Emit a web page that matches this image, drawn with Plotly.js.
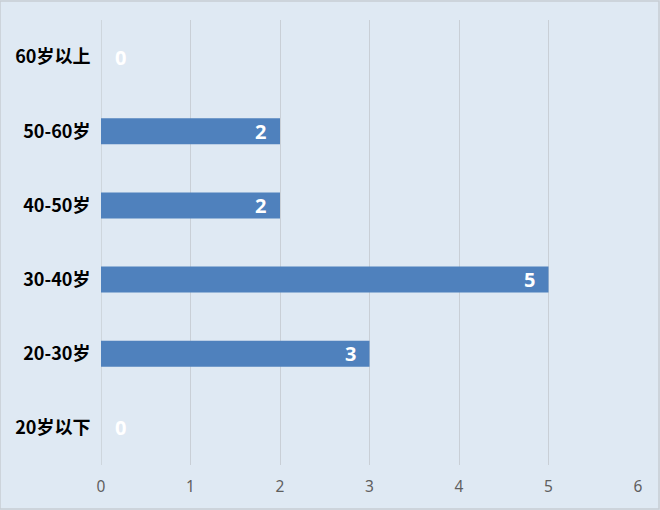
<!DOCTYPE html>
<html>
<head>
<meta charset="utf-8">
<script src="https://cdn.plot.ly/plotly-3.0.1.min.js"></script>
<style>html,body{margin:0;padding:0;background:#dfe9f3;}#chart{width:660px;height:510px;}</style>
</head>
<body>
<div id="chart"></div>
<script>
const categories = ["20岁以下", "20-30岁", "30-40岁", "40-50岁", "50-60岁", "60岁以上"];
const values = [0, 3, 5, 2, 2, 0];
const xTicks = [0, 1, 2, 3, 4, 5, 6];

const trace = {
  type: 'bar',
  orientation: 'h',
  y: categories,
  x: values,
  width: 0.35,
  marker: {color: '#4f81bd'},
  hoverinfo: 'none'
};

const annotations = values.map((v, i) => ({
  x: v, y: categories[i], xref: 'x', yref: 'y',
  text: String(v), showarrow: false,
  xanchor: v === 0 ? 'left' : 'right',
  xshift: v === 0 ? 12 : -12,
  font: {family: 'Noto Sans, sans-serif', size: 20, color: '#ffffff', weight: 'bold'}
}));

const layout = {
  width: 660, height: 510,
  margin: {l: 101, r: 22, t: 20, b: 45},
  paper_bgcolor: '#dfe9f3',
  plot_bgcolor: '#dfe9f3',
  showlegend: false,
  bargap: 0.65,
  xaxis: {
    range: [0, 6], tickvals: xTicks, ticktext: xTicks.map(String),
    showgrid: true, gridcolor: '#c9cfd6', gridwidth: 1,
    zeroline: false, showline: false,
    ticks: 'outside', ticklen: 7, tickcolor: 'rgba(0,0,0,0)',
    tickfont: {family: 'Noto Sans, sans-serif', size: 15.5, color: '#5f5f5f'},
    fixedrange: true
  },
  yaxis: {
    type: 'category', categoryorder: 'array', categoryarray: categories,
    showgrid: false, zeroline: false, showline: false,
    ticks: 'outside', ticklen: 6, tickcolor: 'rgba(0,0,0,0)',
    tickfont: {family: 'Noto Sans CJK SC, sans-serif', size: 18, color: '#000000', weight: 'bold'},
    fixedrange: true
  },
  shapes: [
    {type: 'line', xref: 'x', yref: 'paper', x0: 0, x1: 0, y0: 0, y1: 1, line: {color: '#c9cfd6', width: 1.5}, layer: 'below'},
    {type: 'rect', xref: 'paper', yref: 'paper', x0: -101/537, x1: 1 + 21/537, y0: -44/445, y1: 1 + 19/445, line: {color: '#c8cdd3', width: 1.5}, fillcolor: 'rgba(0,0,0,0)'}
  ],
  annotations: annotations
};

Plotly.newPlot('chart', [trace], layout, {displayModeBar: false, staticPlot: true});
</script>
</body>
</html>
